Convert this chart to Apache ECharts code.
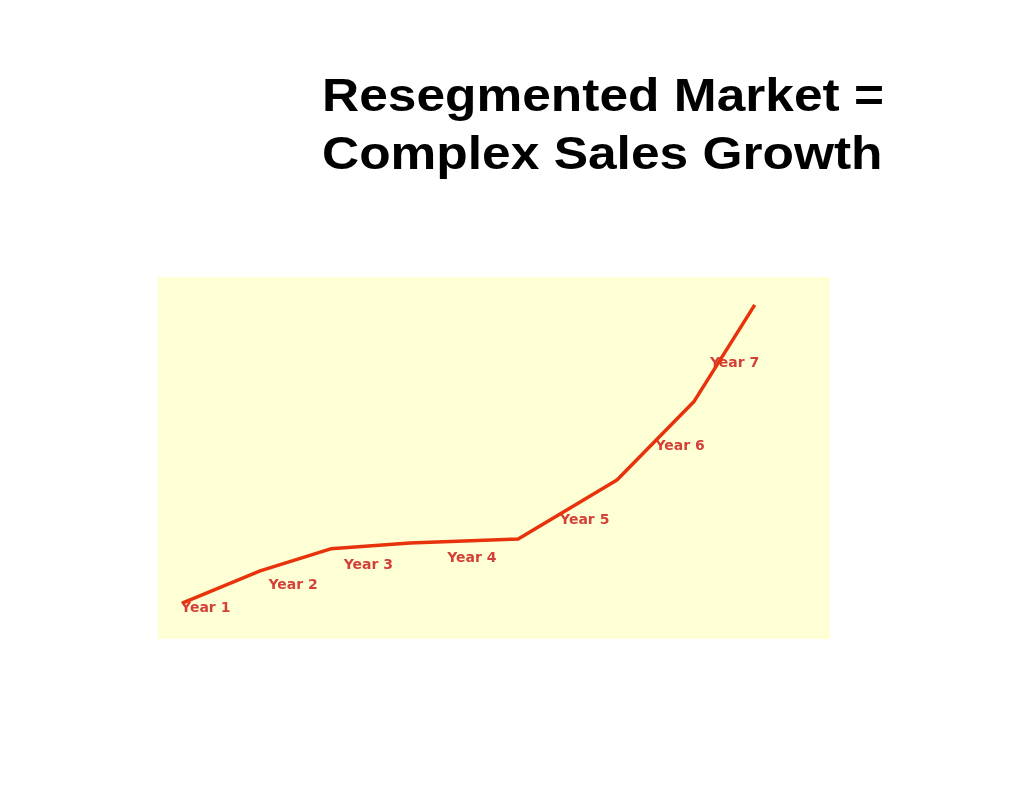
<!DOCTYPE html>
<html>
<head>
<meta charset="utf-8">
<script src="https://cdn.jsdelivr.net/npm/echarts@6/dist/echarts.min.js"></script>
<style>html,body{margin:0;padding:0;background:#fff;}#c{width:1024px;height:792px;}</style>
</head>
<body>
<div id="c"></div>
<script>
var titleLines = ['Resegmented Market =', 'Complex Sales Growth'];
var lineX = [3.6, 15.2, 25.7, 37.5, 53.6, 68.3, 79.8, 88.8];
var lineY = [9.9, 18.8, 24.9, 26.5, 27.6, 43.9, 65.7, 92.3];
var labelNames = ['Year 1', 'Year 2', 'Year 3', 'Year 4', 'Year 5', 'Year 6', 'Year 7'];
var labelX = [7.1, 20.1, 31.3, 46.7, 63.5, 77.7, 85.8];
var labelY = [8.6, 14.9, 20.4, 22.4, 32.9, 53.3, 76.2];

var lineData = lineX.map(function (x, i) { return [x, lineY[i]]; });
var labelData = labelNames.map(function (n, i) { return { name: n, value: [labelX[i], labelY[i]] }; });

var chart = echarts.init(document.getElementById('c'));
chart.setOption({
  animation: false,
  backgroundColor: '#ffffff',
  graphic: titleLines.map(function (t, i) {
    return {
      type: 'text', left: 322, top: 75 + i * 58, scaleX: 1.095,
      style: { text: t, fontFamily: 'Liberation Sans, Arial, sans-serif', fontWeight: 'bold', fontSize: 47, fill: '#000' }
    };
  }),
  grid: { left: 158, top: 277, width: 672, height: 362, show: true, backgroundColor: '#ffffd6', borderWidth: 0 },
  xAxis: { type: 'value', min: 0, max: 100, show: false },
  yAxis: { type: 'value', min: 0, max: 100, show: false },
  series: [
    {
      type: 'line', data: lineData, symbol: 'none',
      lineStyle: { color: '#e8320c', width: 3.5 }
    },
    {
      type: 'scatter', data: labelData, symbolSize: 0,
      label: {
        show: true, position: 'inside', formatter: '{b}',
        color: '#c81010', fontFamily: 'DejaVu Sans, sans-serif', fontWeight: 'bold', fontSize: 14
      }
    }
  ]
});
</script>
</body>
</html>
